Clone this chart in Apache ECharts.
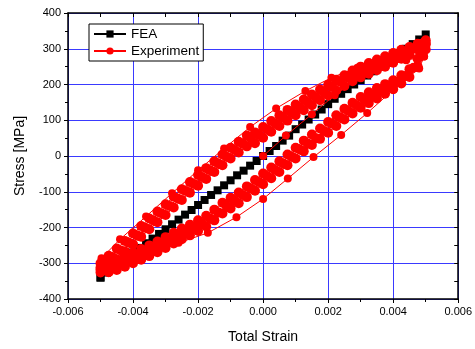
<!DOCTYPE html>
<html><head><meta charset="utf-8">
<script src="https://cdn.jsdelivr.net/npm/echarts@6/dist/echarts.min.js"></script>
<style>html,body{margin:0;padding:0;background:#fff}#c{width:475px;height:349px}</style>
</head><body><div id="c"></div>
<script>
// ---- data ----
const xTicks = [-0.006, -0.004, -0.002, 0.000, 0.002, 0.004, 0.006];
const yTicks = [-400, -300, -200, -100, 0, 100, 200, 300, 400];

// FEA (black squares): loading pass then unloading pass
const feaX = [-0.005,-0.0046,-0.0042,-0.0038,-0.0034,-0.003,-0.0026,-0.0022,-0.0018,-0.0014,-0.001,-0.0006,-0.0002,0.0002,0.0006,0.001,0.0014,0.0018,0.0022,0.0026,0.003,0.0034,0.0038,0.0042,0.0046,0.005,
  0.0048,0.0044,0.004,0.0036,0.0032,0.0028,0.0024,0.002,0.0016,0.0012,0.0008,0.0004,0,-0.0004,-0.0008,-0.0012,-0.0016,-0.002,-0.0024,-0.0028,-0.0032,-0.0036,-0.004,-0.0044,-0.0048,-0.005];
const feaY = [-340,-312,-285,-257,-231,-205,-178,-151,-123,-96,-68,-41,-14,14,43,75,102,130,160,187,212,237,262,287,313,340,
  326,300,275,250,225,200,174,145,116,88,57,28,0,-27,-54,-82,-109,-137,-164,-191,-218,-244,-270,-298,-326,-340];

// Experiment: first (outer) cycle with initial loading
const expFirstX = [0,0.0007,0.0015,0.0022,0.003,0.0037,0.0044,0.00495,
  0.0048,0.004,0.0032,0.0024,0.00155,0.00076,0,-0.00082,-0.0017,-0.0026,-0.0035,-0.0043,-0.005,
  -0.00497,-0.0044,-0.0036,-0.0028,-0.002,-0.0012,-0.0004,0.0004,0.0013,0.0021,0.0029,0.0037,0.0044,0.00495];
const expFirstY = [0,57,117,170,222,250,268,278,
  245,185,120,59,-3,-63,-120,-171,-215,-243,-265,-283,-300,
  -286,-233,-169,-104,-40,21,81,133,182,219,247,262,272,278];

// Experiment: stabilised cycles (dense)
const cycX = [-0.005,-0.00475,-0.0045,-0.00425,-0.004,-0.00375,-0.0035,-0.00325,-0.003,-0.00275,-0.0025,-0.00225,-0.002,-0.00175,-0.0015,-0.00125,-0.001,-0.00075,-0.0005,-0.00025,0,0.00025,0.0005,0.00075,0.001,0.00125,0.0015,0.00175,0.002,0.00225,0.0025,0.00275,0.003,0.00325,0.0035,0.00375,0.004,0.00425,0.0045,0.00475,0.005];
const cycAUp = [-300,-279,-259,-238,-217,-196,-175,-155,-135,-114,-93,-73,-53,-34,-15,4,23,40,57,66,81,98,114,129,144,158,172,186,199,213,226,239,250,260,270,279,288,297,305,314,324];
const cycALow = [-326,-325,-319,-310,-300,-290,-280,-269,-257,-245,-233,-222,-210,-197,-180,-161,-147,-132,-115,-97,-79,-62,-45,-26,-7,13,31,48,65,84,102,119,135,148,161,174,187,203,221,250,298];
const cycBUp = [-318,-305,-289,-268,-247,-226,-205,-185,-165,-144,-123,-103,-83,-64,-45,-26,-7,10,27,36,51,68,84,99,114,128,142,156,169,183,196,209,220,230,240,250,261,272,284,298,316];
const cycBLow = [-312,-300,-290,-280,-270,-260,-250,-239,-227,-215,-203,-192,-180,-167,-150,-131,-117,-102,-85,-67,-49,-32,-15,4,23,43,60,77,95,114,132,149,165,178,190,201,212,226,243,272,312];
// a further cycle sampled between the others
const cycHX = [-0.004875,-0.004625,-0.004375,-0.004125,-0.003875,-0.003625,-0.003375,-0.003125,-0.002875,-0.002625,-0.002375,-0.002125,-0.001875,-0.001625,-0.001375,-0.001125,-0.000875,-0.000625,-0.000375,-0.000125,0.000125,0.000375,0.000625,0.000875,0.001125,0.001375,0.001625,0.001875,0.002125,0.002375,0.002625,0.002875,0.003125,0.003375,0.003625,0.003875,0.004125,0.004375,0.004625,0.004875];
const cycCUp = [-301,-283,-264,-243,-222,-201,-180,-160,-140,-119,-98,-78,-59,-40,-21,-2,17,34,50,59,75,91,107,122,136,150,164,178,193,208,219,230,240,250,260,270,280,290,301,314];
const cycCLow = [-317,-309,-300,-290,-280,-270,-260,-248,-236,-224,-213,-201,-189,-175,-158,-139,-125,-109,-91,-73,-56,-39,-21,-2,18,35,50,70,90,108,126,142,157,170,182,194,208,224,247,284];

// ---- build ----
const pairs = (xs, ys) => xs.map((x, i) => [x, ys[i]]);
const loop = (xs, up, low) => pairs(xs, up).concat(pairs(xs.slice().reverse(), low.slice().reverse()));

const FONT = 'Liberation Sans, Arial, sans-serif';
const chart = echarts.init(document.getElementById('c'), null, {renderer: 'canvas'});
const RED = '#ff0000';
const expSeries = (data, size, z) => ({name: 'Experiment', type: 'line', data, symbol: 'circle', symbolSize: size,
  lineStyle: {color: RED, width: 1}, itemStyle: {color: RED}, z});
chart.setOption({
  animation: false,
  backgroundColor: '#fff',
  grid: {left: 68, right: 16, top: 13, bottom: 47},
  legend: {
    left: 89, top: 24, orient: 'vertical',
    backgroundColor: '#fff', borderColor: '#000', borderWidth: 1, borderRadius: 0,
    padding: [3, 4, 3, 4], itemGap: 3, itemWidth: 32, itemHeight: 9,
    textStyle: {fontFamily: FONT, fontSize: 13.5, color: '#000'},
    data: ['FEA', 'Experiment']
  },
  xAxis: [{
    type: 'value', min: xTicks[0], max: xTicks[xTicks.length - 1], interval: 0.002,
    name: 'Total Strain', nameLocation: 'middle', nameGap: 31,
    nameTextStyle: {fontFamily: FONT, fontSize: 14, color: '#000'},
    axisLine: {show: true, onZero: false, lineStyle: {color: '#000', width: 1.5}},
    axisTick: {show: true, length: 4, lineStyle: {color: '#000'}},
    minorTick: {show: true, splitNumber: 2, length: 3, lineStyle: {color: '#000'}},
    axisLabel: {fontFamily: FONT, fontSize: 11, color: '#000', margin: 7,
      formatter: v => v.toFixed(3)},
    splitLine: {show: true, lineStyle: {color: '#3a3aff', width: 1}}
  }, {
    type: 'value', position: 'top', min: xTicks[0], max: xTicks[xTicks.length - 1], interval: 0.002,
    axisLine: {show: true, onZero: false, lineStyle: {color: '#000', width: 1.5}},
    axisTick: {show: true, inside: true, length: 4, lineStyle: {color: '#000'}},
    minorTick: {show: true, splitNumber: 2, length: 4, lineStyle: {color: '#000'}},
    axisLabel: {show: false}, splitLine: {show: false}
  }],
  yAxis: [{
    type: 'value', min: yTicks[0], max: yTicks[yTicks.length - 1], interval: 100,
    name: 'Stress [MPa]', nameLocation: 'middle', nameGap: 41, nameRotate: 90,
    nameTextStyle: {fontFamily: FONT, fontSize: 14, color: '#000'},
    axisLine: {show: true, onZero: false, lineStyle: {color: '#000', width: 1.5}},
    axisTick: {show: true, length: 4, lineStyle: {color: '#000'}},
    minorTick: {show: true, splitNumber: 2, length: 3, lineStyle: {color: '#000'}},
    axisLabel: {fontFamily: FONT, fontSize: 11, color: '#000', margin: 7},
    splitLine: {show: true, lineStyle: {color: '#3a3aff', width: 1}}
  }, {
    type: 'value', position: 'right', min: yTicks[0], max: yTicks[yTicks.length - 1], interval: 100,
    axisLine: {show: true, onZero: false, lineStyle: {color: '#000', width: 1.5}},
    axisTick: {show: true, inside: true, length: 4, lineStyle: {color: '#000'}},
    minorTick: {show: true, splitNumber: 2, length: 4, lineStyle: {color: '#000'}},
    axisLabel: {show: false}, splitLine: {show: false}
  }],
  series: [
    {name: 'FEA', type: 'line', data: pairs(feaX, feaY), symbol: 'rect', symbolSize: 8,
     lineStyle: {color: '#000', width: 1.5}, itemStyle: {color: '#000'}, z: 2},
    expSeries(loop(cycX, cycAUp, cycALow), 10, 3),
    expSeries(loop(cycX, cycBUp, cycBLow), 10, 3),
    expSeries(loop(cycHX, cycCUp, cycCLow), 10, 3),
    expSeries(pairs(expFirstX, expFirstY), 8, 4)
  ]
});
</script></body></html>
